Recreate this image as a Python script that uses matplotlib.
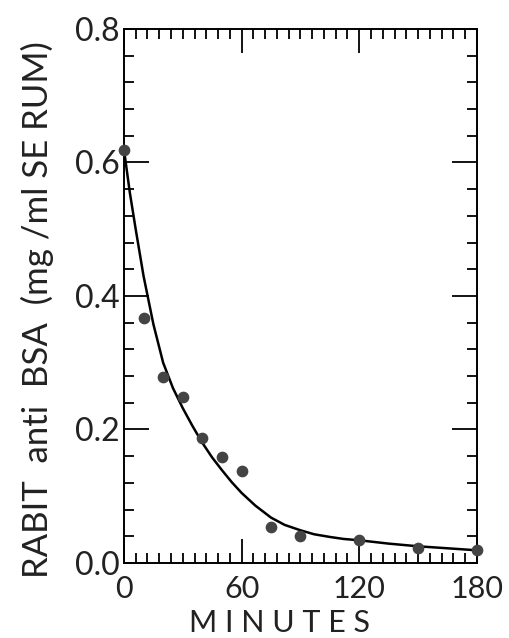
import matplotlib
matplotlib.use("Agg")
import matplotlib.pyplot as plt
from matplotlib.ticker import MultipleLocator

# measured points (minutes, mg/ml serum)
minutes = [0, 10, 20, 30, 40, 50, 60, 75, 90, 120, 150, 180]
conc = [0.618, 0.367, 0.279, 0.249, 0.187, 0.159, 0.138, 0.054, 0.040, 0.034, 0.022, 0.019]

# fitted curve
curve_min = [0, 3, 6, 10, 15, 20, 25, 30, 35, 40, 45, 50, 55, 60, 67, 75, 82, 90, 97, 105, 112, 120, 135, 150, 165, 180]
curve_conc = [0.620, 0.555, 0.500, 0.430, 0.358, 0.300, 0.262, 0.232, 0.205, 0.180, 0.158, 0.139, 0.121, 0.105, 0.086, 0.068, 0.057, 0.049, 0.043, 0.039, 0.036, 0.034, 0.029, 0.025, 0.022, 0.019]

xticks = [0, 60, 120, 180]
yticks = [0.0, 0.2, 0.4, 0.6, 0.8]

plt.rcParams['font.family'] = ['Lato', 'DejaVu Sans']

fig = plt.figure(figsize=(5.1, 6.38), dpi=100)
ax = fig.add_axes([0.243, 0.1176, 0.692, 0.837])

ax.plot(curve_min, curve_conc, color='black', lw=1.8, zorder=2)
ax.scatter(minutes, conc, s=55, color='#444444', zorder=3, clip_on=False)

ax.set_xlim(0, 180)
ax.set_ylim(0, 0.8)
ax.set_xticks(xticks)
ax.set_xticklabels([str(t) for t in xticks])
ax.set_yticks(yticks)
ax.set_yticklabels([f"{t:.1f}" for t in yticks])
ax.xaxis.set_minor_locator(MultipleLocator(6))
ax.yaxis.set_minor_locator(MultipleLocator(0.04))

for s in ax.spines.values():
    s.set_linewidth(1.4)

ax.tick_params(axis='x', which='both', direction='in', top=True, bottom=True, width=1.3)
ax.tick_params(axis='x', which='major', length=17, pad=9, labelsize=22, labelcolor='#222222')
ax.tick_params(axis='x', which='minor', length=7)
ax.tick_params(axis='y', which='both', direction='in', left=True, right=True, width=1.3)
ax.tick_params(axis='y', which='major', length=18, pad=3, labelsize=23, labelcolor='#222222')
ax.tick_params(axis='y', which='minor', length=7)

ax.set_xlabel('M I N U T E S', fontsize=22, color='#222222', va='top')
ax.xaxis.set_label_coords(0.44, -0.086)
ax.set_ylabel('RABIT  anti  BSA  (mg /ml SE RUM)', fontsize=25, color='#222222', va='center')
ax.yaxis.set_label_coords(-0.246, 0.474)

fig.savefig('out.png', dpi=100)
